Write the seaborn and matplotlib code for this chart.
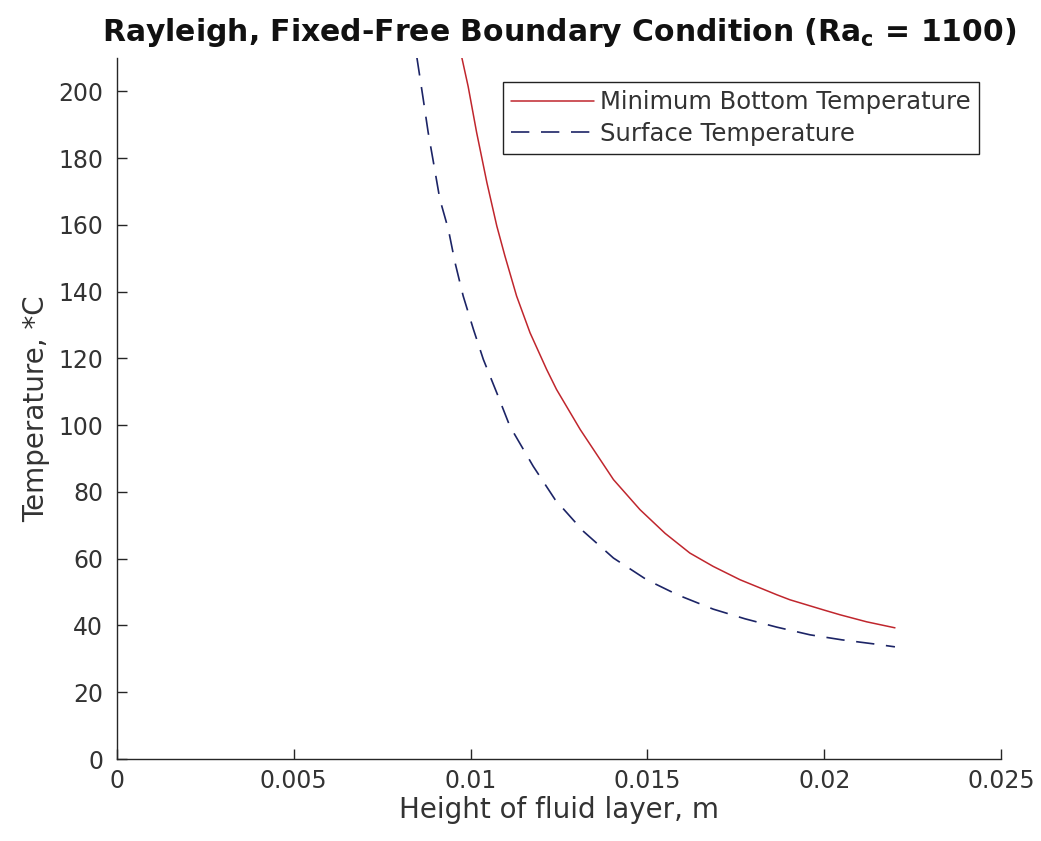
import matplotlib
matplotlib.use("Agg")
import matplotlib.pyplot as plt
import seaborn as sns
import pandas as pd

# Data
h_bottom = [0.00975, 0.00993, 0.01017, 0.01046, 0.01074, 0.01097, 0.0113, 0.01168, 0.01215,
            0.01243, 0.0131, 0.01404, 0.01479, 0.0155, 0.0162, 0.01686, 0.01762, 0.01866,
            0.01903, 0.0200, 0.02045, 0.0212, 0.0220]
t_bottom = [210.2, 201.5, 187.7, 172.7, 159.7, 150.7, 138.7, 127.7, 116.7,
            110.7, 98.7, 83.7, 74.7, 67.6, 61.7, 57.7, 53.7, 49.2,
            47.7, 44.6, 43.2, 41.1, 39.3]

h_surface = [0.00848, 0.00866, 0.0088, 0.00895, 0.00913, 0.00937, 0.00956, 0.00979, 0.01008,
             0.01036, 0.01074, 0.01111, 0.01177, 0.01239, 0.01319, 0.01404, 0.01498, 0.01587,
             0.01686, 0.01776, 0.01866, 0.0196, 0.0205, 0.02139, 0.0220]
t_surface = [210.2, 197.7, 187.7, 178.7, 167.7, 158.7, 148.7, 138.7, 128.7,
             119.7, 109.7, 99.7, 87.7, 77.7, 68.2, 60.2, 53.7, 49.1,
             44.9, 42.0, 39.5, 37.2, 35.7, 34.5, 33.6]

x_ticks = [0, 0.005, 0.01, 0.015, 0.02, 0.025]
x_ticklabels = ["0", "0.005", "0.01", "0.015", "0.02", "0.025"]
y_ticks = [0, 20, 40, 60, 80, 100, 120, 140, 160, 180, 200]

label_bottom = "Minimum Bottom Temperature"
label_surface = "Surface Temperature"

sns.set_theme(style="ticks")
plt.rcParams['font.family'] = ['DejaVu Sans']

fig = plt.figure(figsize=(10.41, 8.41), dpi=100)
ax = fig.add_axes([0.1124, 0.0975, 0.8492, 0.8335])

df_b = pd.DataFrame({"h": h_bottom, "T": t_bottom})
df_s = pd.DataFrame({"h": h_surface, "T": t_surface})

sns.lineplot(data=df_b, x="h", y="T", ax=ax, color="#c0262d", linewidth=1.1,
             label=label_bottom, sort=False, estimator=None)
sns.lineplot(data=df_s, x="h", y="T", ax=ax, color="#1c2466", linewidth=1.2,
             label=label_surface, sort=False, estimator=None)
ax.lines[1].set_dashes([11, 7])

ax.set_xlim(0, 0.025)
ax.set_ylim(0, 210)
ax.set_xticks(x_ticks)
ax.set_xticklabels(x_ticklabels)
ax.set_yticks(y_ticks)

for s in ["top", "right"]:
    ax.spines[s].set_visible(False)
for s in ["left", "bottom"]:
    ax.spines[s].set_color("#262626")
    ax.spines[s].set_linewidth(1.0)

ax.tick_params(axis="both", direction="in", length=7, width=1.0, colors="#262626",
               labelsize=17, labelcolor="#333333")
ax.tick_params(axis="x", pad=7)
ax.tick_params(axis="y", pad=10)

ax.set_xlabel("Height of fluid layer, m", fontsize=20, color="#333333", labelpad=2)
ax.set_ylabel("Temperature, *C", fontsize=20, color="#333333", labelpad=6)
ax.set_title(r"Rayleigh, Fixed-Free Boundary Condition (Ra$_\mathbf{c}$ = 1100)",
             fontsize=21.5, fontweight="bold", color="#111111", pad=12)

leg = ax.legend(loc="upper right", bbox_to_anchor=(0.975, 0.966), fontsize=17.5,
                frameon=True, fancybox=False, framealpha=1, edgecolor="#222222",
                handlelength=3.4, handletextpad=0.25, borderpad=0.35, labelspacing=0.3,
                borderaxespad=0)
leg.get_frame().set_linewidth(1.0)
for t in leg.get_texts():
    t.set_color("#333333")

fig.savefig("out.png", dpi=100, facecolor="white")
